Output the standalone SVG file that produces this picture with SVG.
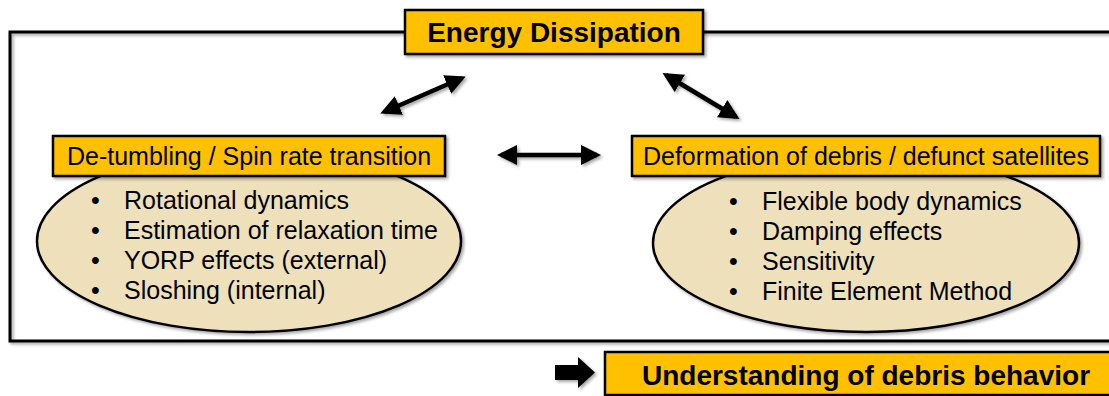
<svg xmlns="http://www.w3.org/2000/svg" width="1109" height="396" viewBox="0 0 1109 396">
<defs>
<filter id="sh" filterUnits="userSpaceOnUse" x="0" y="0" width="1109" height="396">
<feDropShadow dx="2" dy="2" stdDeviation="1.5" flood-color="#000" flood-opacity="0.35"/>
</filter>
<marker id="ah" viewBox="0 0 10 10" refX="8" refY="5" markerWidth="4.5" markerHeight="4.5" orient="auto-start-reverse" markerUnits="strokeWidth">
<path d="M0,0 L10,5 L0,10 z" fill="#000"/>
</marker>
<style>
.box{fill:#FFC000;stroke:#000;stroke-width:2.5;filter:url(#sh)}
.ell{fill:#EEE0BA;stroke:#000;stroke-width:2.5;filter:url(#sh)}
.t{font-family:"Liberation Sans",Arial,sans-serif;fill:#000}
.b{font-weight:bold;font-size:28px}
.h{font-size:25px}
.li{font-size:25px}
.con{stroke:#000;stroke-width:4.5;fill:none;marker-start:url(#ah);marker-end:url(#ah);filter:url(#sh)}
</style>
</defs>
<rect x="10" y="32" width="1110" height="309" fill="none" stroke="#000" stroke-width="3" filter="url(#sh)"/>
<g id="energy">
<rect class="box" x="405" y="10" width="298" height="44"/>
<text class="t b" x="554" y="42" text-anchor="middle">Energy Dissipation</text>
</g>
<g id="detumbling">
<ellipse class="ell" cx="249" cy="241" rx="212" ry="91"/>
<rect class="box" x="53" y="136" width="392" height="40"/>
<text class="t h" x="249" y="165" text-anchor="middle">De-tumbling / Spin rate transition</text>
<text class="t li" x="91" y="209">•</text><text class="t li" x="124" y="209">Rotational dynamics</text>
<text class="t li" x="91" y="239">•</text><text class="t li" x="124" y="239">Estimation of relaxation time</text>
<text class="t li" x="91" y="269">•</text><text class="t li" x="124" y="269">YORP effects (external)</text>
<text class="t li" x="91" y="299">•</text><text class="t li" x="124" y="299">Sloshing (internal)</text>
</g>
<g id="deformation">
<ellipse class="ell" cx="866" cy="243" rx="213" ry="89"/>
<rect class="box" x="632" y="136" width="468" height="40"/>
<text class="t h" x="866" y="165" text-anchor="middle">Deformation of debris / defunct satellites</text>
<text class="t li" x="729" y="210">•</text><text class="t li" x="762" y="210">Flexible body dynamics</text>
<text class="t li" x="729" y="240">•</text><text class="t li" x="762" y="240">Damping effects</text>
<text class="t li" x="729" y="270">•</text><text class="t li" x="762" y="270">Sensitivity</text>
<text class="t li" x="729" y="300">•</text><text class="t li" x="762" y="300">Finite Element Method</text>
</g>
<g id="understanding">
<rect class="box" x="605" y="352" width="520" height="43"/>
<text class="t b" x="866" y="385" text-anchor="middle">Understanding of debris behavior</text>
<path d="M555,365 L578,365 L578,357 L595,372.5 L578,388 L578,380 L555,380 z" fill="#000" filter="url(#sh)"/>
</g>
<g id="connectors">
<line class="con" x1="384" y1="112" x2="462" y2="78"/>
<line class="con" x1="666" y1="75" x2="736" y2="117"/>
<line class="con" x1="501" y1="155" x2="597" y2="155"/>
</g>
</svg>
